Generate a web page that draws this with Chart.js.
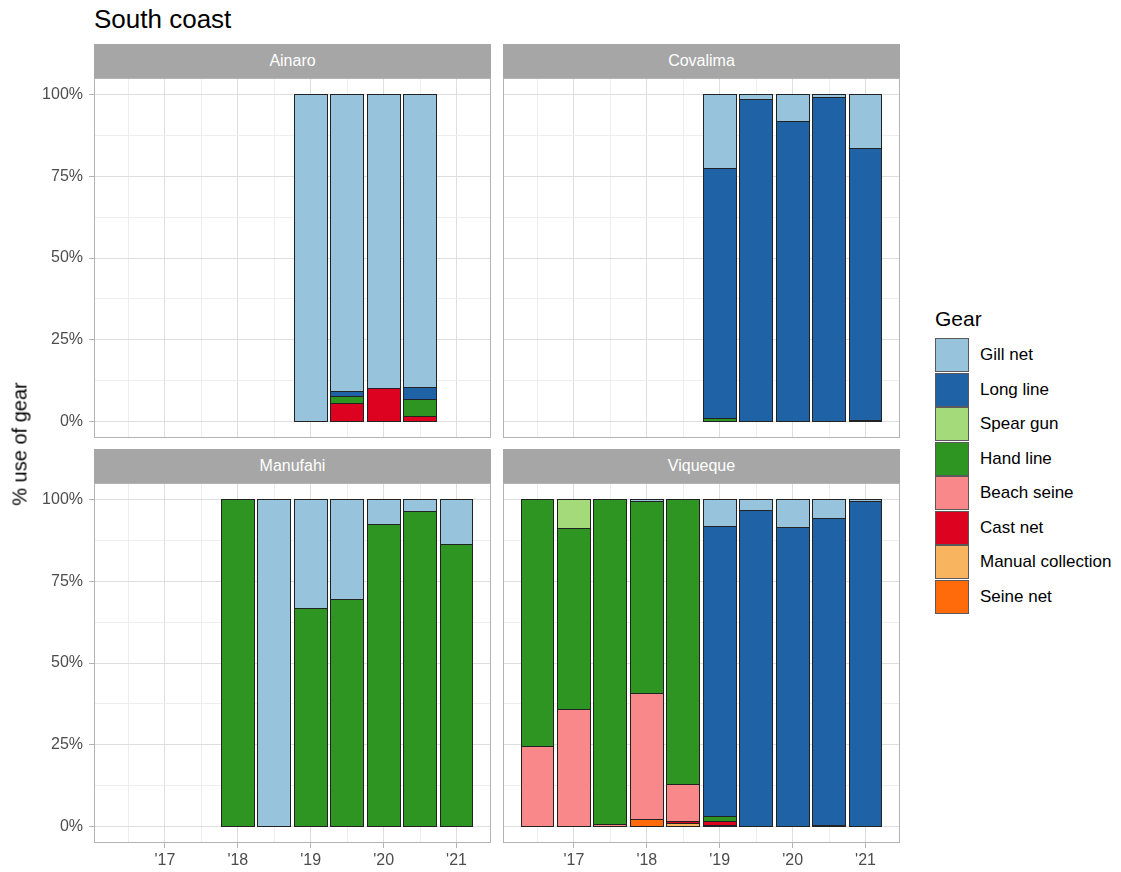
<!DOCTYPE html>
<html>
<head>
<meta charset="utf-8">
<title>South coast</title>
<script src="https://cdn.jsdelivr.net/npm/chart.js@4.4.1/dist/chart.umd.min.js"></script>
<style>
  body { margin: 0; background: #fff; font-family: "Liberation Sans", Arial, sans-serif; }
  #page { position: relative; width: 1121px; height: 872px; overflow: hidden; }
  canvas { position: absolute; }
  .title { position: absolute; left: 94px; top: 6px; font-size: 26px; line-height: 26px; color: #000; }
  .strip { position: absolute; width: 397px; height: 34px; background: #A6A6A6; color: #fff;
           font-size: 16px; line-height: 34px; text-align: center; }
  .ytitle { position: absolute; left: 20px; top: 444px; font-size: 20px; color: #000; white-space: nowrap;
            transform: translate(-50%, -50%) rotate(-90deg); }
  .legend-title { position: absolute; left: 935px; top: 307px; font-size: 21px; color: #000; }
  .key { position: absolute; left: 935px; width: 32px; height: 32px; border: 1px solid #5a5a5a; }
  .key-label { position: absolute; left: 980px; font-size: 17px; line-height: 34px; color: #000; white-space: nowrap; }
</style>
</head>
<body>
<div id="page">
  <div class="title">South coast</div>
  <div class="strip" style="left:94px; top:44px;">Ainaro</div>
  <div class="strip" style="left:503px; top:44px;">Covalima</div>
  <div class="strip" style="left:94px; top:449px;">Manufahi</div>
  <div class="strip" style="left:503px; top:449px;">Viqueque</div>
  <canvas id="ainaro" width="491" height="360" style="left:0; top:78px;"></canvas>
  <canvas id="covalima" width="397" height="360" style="left:503px; top:78px;"></canvas>
  <canvas id="manufahi" width="491" height="400" style="left:0; top:483px;"></canvas>
  <canvas id="viqueque" width="397" height="400" style="left:503px; top:483px;"></canvas>
  <div class="ytitle">% use of gear</div>
  <div class="legend-title">Gear</div>
  <div id="legend"></div>
</div>
<script>
const _ = null;

// half-year periods shown on the x axis
const periods = [2016.5, 2017, 2017.5, 2018, 2018.5, 2019, 2019.5, 2020, 2020.5, 2021];
const xGridTicks = [2016.5, 2017, 2017.5, 2018, 2018.5, 2019, 2019.5, 2020, 2020.5, 2021];
const yGridTicks = [0, 12.5, 25, 37.5, 50, 62.5, 75, 87.5, 100];

// stack order, bottom to top
const gears = ['Seine net', 'Manual collection', 'Cast net', 'Beach seine', 'Hand line', 'Spear gun', 'Long line', 'Gill net'];
const gearColors = ['#FF6B0A', '#F9B45F', '#DC0220', '#F8888A', '#2E9422', '#A5DA7B', '#1F62A5', '#97C3DC'];

// Ainaro (% of gear use)
const ainaroGillNet  = [_, _, _, _, _, 100, 90.9, 90.0, 89.6, _];
const ainaroLongLine = [_, _, _, _, _, _, 1.3, _, 3.7, _];
const ainaroHandLine = [_, _, _, _, _, _, 2.3, _, 5.2, _];
const ainaroCastNet  = [_, _, _, _, _, _, 5.5, 10.0, 1.5, _];

// Covalima
const covalimaGillNet  = [_, _, _, _, _, 22.5, 1.6, 8.3, 0.9, 16.5];
const covalimaLongLine = [_, _, _, _, _, 76.5, 98.4, 91.7, 99.1, 83.2];
const covalimaHandLine = [_, _, _, _, _, 1.0, _, _, _, 0.3];

// Manufahi
const manufahiGillNet  = [_, _, _, _, 100, 33.3, 30.7, 7.6, 3.8, 13.9];
const manufahiHandLine = [_, _, _, 100, _, 66.7, 69.3, 92.4, 96.2, 86.1];

// Viqueque
const viquequeGillNet     = [_, _, _, 0.6, _, 8.4, 3.4, 8.7, 5.9, 0.7];
const viquequeLongLine    = [_, _, _, _, _, 88.4, 96.6, 91.3, 93.8, 99.3];
const viquequeSpearGun    = [_, 9.0, _, _, _, _, _, _, _, _];
const viquequeHandLine    = [75.5, 55.2, 99.4, 58.7, 87.1, 1.5, _, _, _, _];
const viquequeBeachSeine  = [24.5, 35.8, 0.6, 38.6, 11.4, _, _, _, _, _];
const viquequeCastNet     = [_, _, _, _, 0.5, 1.2, _, _, _, _];
const viquequeManual      = [_, _, _, _, 1.0, _, _, _, _, _];
const viquequeSeineNet    = [_, _, _, 2.1, _, 0.5, _, _, 0.3, _];

const xMin = 2016.0275, xMax = 2021.4725;
const majorGrid = '#DEDEDE', minorGrid = '#EEEEEE', axisGrey = '#B3B3B3';

function buildDatasets(series) {
  return gears.map((g, i) => {
    const arr = series[g] || [];
    return {
      label: g,
      data: periods.map((p, k) => ({ x: p, y: arr[k] })).filter(d => d.y != null),
      backgroundColor: gearColors[i],
      borderWidth: 0,
      barPercentage: 0.9,
      categoryPercentage: 1.0
    };
  });
}

// grey frame round the panel
const panelBorder = {
  id: 'panelBorder',
  afterDraw(chart) {
    const { ctx, chartArea: a } = chart;
    ctx.save();
    ctx.strokeStyle = axisGrey;
    ctx.lineWidth = 1;
    ctx.strokeRect(a.left + 0.5, a.top + 0.5, a.right - a.left - 1, a.bottom - a.top - 1);
    ctx.restore();
  }
};

// crisp 1px outline on every bar segment, snapped to the pixel grid
const barOutline = {
  id: 'barOutline',
  afterDatasetsDraw(chart) {
    const ctx = chart.ctx;
    ctx.save();
    ctx.strokeStyle = '#222222';
    ctx.lineWidth = 1;
    chart.data.datasets.forEach((ds, i) => {
      chart.getDatasetMeta(i).data.forEach(bar => {
        const { x, y, base, width } = bar.getProps(['x', 'y', 'base', 'width'], true);
        const l = Math.floor(x - width / 2) + 0.5;
        const r = Math.floor(x + width / 2) + 0.5;
        const t = Math.floor(Math.min(y, base)) + 0.5;
        const b = Math.floor(Math.max(y, base)) + 0.5;
        ctx.strokeRect(l, t, r - l, b - t);
      });
    });
    ctx.restore();
  }
};

function makeChart(id, series, showX, showY) {
  return new Chart(document.getElementById(id), {
    type: 'bar',
    data: { datasets: buildDatasets(series) },
    options: {
      responsive: false,
      animation: false,
      layout: { padding: 0 },
      plugins: { legend: { display: false }, tooltip: { enabled: false } },
      scales: {
        x: {
          type: 'linear',
          stacked: true,
          min: xMin,
          max: xMax,
          offset: false,
          afterBuildTicks: s => { s.ticks = xGridTicks.map(v => ({ value: v })); },
          afterFit: s => { s.height = showX ? 40 : 0; s.paddingLeft = 0; s.paddingRight = 0; },
          border: { display: false },
          grid: {
            offset: false,
            color: c => Number.isInteger(c.tick.value) ? majorGrid : minorGrid,
            lineWidth: 1,
            drawTicks: showX,
            tickLength: 5,
            tickColor: c => Number.isInteger(c.tick.value) ? axisGrey : 'rgba(0,0,0,0)'
          },
          ticks: {
            display: showX,
            autoSkip: false,
            maxRotation: 0,
            padding: 3,
            color: '#4D4D4D',
            font: { size: 16 },
            callback: v => Number.isInteger(v) ? "'" + String(v).slice(2) : ''
          }
        },
        y: {
          stacked: true,
          min: -5,
          max: 105,
          afterBuildTicks: s => { s.ticks = yGridTicks.map(v => ({ value: v })); },
          afterFit: s => { s.width = showY ? 94 : 0; s.paddingTop = 0; s.paddingBottom = 0; },
          border: { display: false },
          grid: {
            color: c => c.tick.value % 25 === 0 ? majorGrid : minorGrid,
            lineWidth: 1,
            drawTicks: showY,
            tickLength: 5,
            tickColor: c => c.tick.value % 25 === 0 ? axisGrey : 'rgba(0,0,0,0)'
          },
          ticks: {
            display: showY,
            padding: 6,
            color: '#4D4D4D',
            font: { size: 16 },
            callback: v => v % 25 === 0 ? v + '%' : ''
          }
        }
      }
    },
    plugins: [barOutline, panelBorder]
  });
}

Chart.defaults.font.family = '"Liberation Sans", Arial, sans-serif';

makeChart('ainaro', {
  'Gill net': ainaroGillNet, 'Long line': ainaroLongLine,
  'Hand line': ainaroHandLine, 'Cast net': ainaroCastNet
}, false, true);

makeChart('covalima', {
  'Gill net': covalimaGillNet, 'Long line': covalimaLongLine, 'Hand line': covalimaHandLine
}, false, false);

makeChart('manufahi', {
  'Gill net': manufahiGillNet, 'Hand line': manufahiHandLine
}, true, true);

makeChart('viqueque', {
  'Gill net': viquequeGillNet, 'Long line': viquequeLongLine, 'Spear gun': viquequeSpearGun,
  'Hand line': viquequeHandLine, 'Beach seine': viquequeBeachSeine, 'Cast net': viquequeCastNet,
  'Manual collection': viquequeManual, 'Seine net': viquequeSeineNet
}, true, false);

// legend, Gill net first as in the reference
const legend = document.getElementById('legend');
gears.slice().reverse().forEach((g, i) => {
  const top = 338 + i * 34.5;
  const key = document.createElement('div');
  key.className = 'key';
  key.style.top = top + 'px';
  key.style.background = gearColors[gears.length - 1 - i];
  legend.appendChild(key);
  const lab = document.createElement('div');
  lab.className = 'key-label';
  lab.style.top = top + 'px';
  lab.textContent = g;
  legend.appendChild(lab);
});
</script>
</body>
</html>
